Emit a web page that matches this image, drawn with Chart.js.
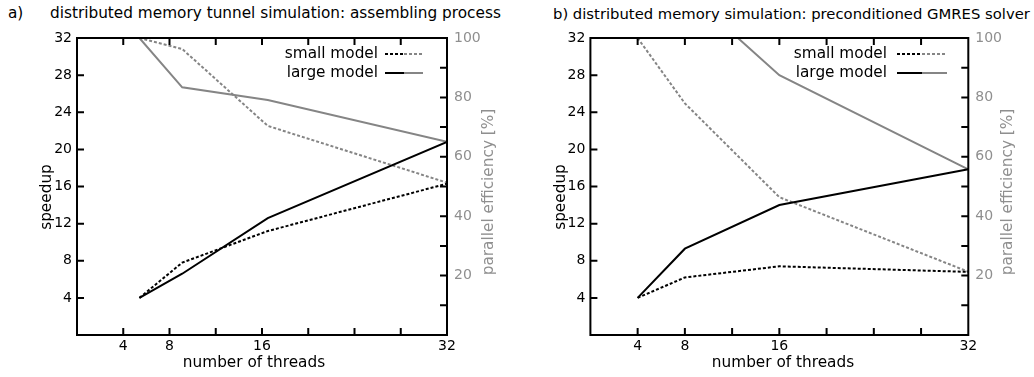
<!DOCTYPE html>
<html>
<head>
<meta charset="utf-8">
<script src="https://cdn.jsdelivr.net/npm/chart.js@4/dist/chart.umd.min.js"></script>
<style>
  body { margin: 0; width: 1034px; height: 377px; background: #fff; position: relative; overflow: hidden; font-family: "DejaVu Sans", sans-serif; }
  .box { position: absolute; top: 0; width: 517px; height: 377px; }
  .title { position: absolute; top: 4px; font-size: 15.3px; color: #000; white-space: nowrap; }
</style>
</head>
<body>
<div class="title" style="left:8px">a)</div>
<div class="title" style="left:50px">distributed memory tunnel simulation: assembling process</div>
<div class="title" style="left:553px; font-size:14.8px; top:5px">b) distributed memory simulation: preconditioned GMRES solver</div>
<div class="box" style="left:0"><canvas id="chartA"></canvas></div>
<div class="box" style="left:517px"><canvas id="chartB"></canvas></div>
<script>
// tick labels and legend
const xTickLabels = [4, 8, 16, 32];
const speedupTickLabels = [4, 8, 12, 16, 20, 24, 28, 32];
const effTickLabels = [20, 40, 60, 80, 100];
const legendLabels = ['small model', 'large model'];

// a) assembling process
const threadsA = [5.4, 9.1, 16.5, 32];
const speedupSmallA = [4, 7.8, 11.2, 16.3];
const speedupLargeA = [4, 6.6, 12.6, 20.8];
const effSmallA = [100, 96.3, 70.4, 51.3];
const effLargeA = [100, 83.4, 79.1, 65.1];

// b) preconditioned GMRES solver
const threadsB = [4, 8, 16, 32];
const speedupSmallB = [4, 6.2, 7.4, 6.8];
const speedupLargeB = [4, 9.3, 14.0, 17.85];
const effSmallB = [100, 78, 46.4, 21.3];
const effLargeB = [100, 116, 87.5, 55.8];

Chart.defaults.font.family = '"DejaVu Sans", sans-serif';
Chart.defaults.font.size = 14;
Chart.defaults.color = '#000';

const GRAY = '#858585';
const GRAY_TEXT = '#8f8f8f';
const TEXT_FONT = '15.3px "DejaVu Sans", sans-serif';

function pts(xs, ys) {
  return xs.map((x, i) => ({ x: x, y: ys[i] }));
}

function rotatedText(ctx, text, x, y, color) {
  ctx.save();
  ctx.translate(x, y);
  ctx.rotate(-Math.PI / 2);
  ctx.fillStyle = color;
  ctx.fillText(text, 0, 0);
  ctx.restore();
}

// frame, inward ticks, legend and axis titles (gnuplot look)
const framePlugin = {
  id: 'frame',
  afterDraw(chart, args, opts) {
    const { ctx, chartArea: a, scales } = chart;
    const tl = 7;
    ctx.save();
    ctx.strokeStyle = '#000';
    ctx.lineWidth = 2;
    ctx.beginPath();
    scales.x.ticks.forEach(t => {
      if (t.value <= 0 || t.value >= 32) return;
      const px = scales.x.getPixelForValue(t.value);
      ctx.moveTo(px, a.bottom); ctx.lineTo(px, a.bottom - tl);
      ctx.moveTo(px, a.top); ctx.lineTo(px, a.top + tl);
    });
    scales.y.ticks.forEach(t => {
      if (t.value <= 0 || t.value >= 32) return;
      const py = scales.y.getPixelForValue(t.value);
      ctx.moveTo(a.left, py); ctx.lineTo(a.left + tl, py);
    });
    scales.y2.ticks.forEach(t => {
      if (t.value <= 0 || t.value >= 100) return;
      const py = scales.y2.getPixelForValue(t.value);
      ctx.moveTo(a.right, py); ctx.lineTo(a.right - tl, py);
    });
    ctx.stroke();
    ctx.strokeRect(a.left, a.top, a.width, a.height);

    // legend
    const lg = opts.legend;
    ctx.font = TEXT_FONT;
    ctx.textAlign = 'right';
    ctx.textBaseline = 'middle';
    ctx.fillStyle = '#000';
    legendLabels.forEach((label, i) => {
      const y = lg.rows[i];
      ctx.fillText(label, lg.textRight, y);
      ctx.setLineDash(i === 0 ? [3, 2] : []);
      ctx.strokeStyle = '#000';
      ctx.beginPath(); ctx.moveTo(lg.x0, y); ctx.lineTo(lg.x1, y); ctx.stroke();
      ctx.strokeStyle = GRAY;
      ctx.beginPath(); ctx.moveTo(lg.x1, y); ctx.lineTo(lg.x2, y); ctx.stroke();
    });
    ctx.setLineDash([]);

    // axis titles
    const t = opts.titles;
    ctx.textAlign = 'center';
    ctx.fillText('number of threads', t.xTitle[0], t.xTitle[1]);
    rotatedText(ctx, 'speedup', t.yTitle[0], t.yTitle[1], '#000');
    rotatedText(ctx, 'parallel efficiency [%]', t.y2Title[0], t.y2Title[1], GRAY_TEXT);
    ctx.restore();
  }
};

function makeChart(id, threads, sSmall, sLarge, eSmall, eLarge, L) {
  return new Chart(document.getElementById(id), {
    type: 'line',
    data: {
      datasets: [
        { label: 'small model speedup', data: pts(threads, sSmall), yAxisID: 'y',
          borderColor: '#000', borderWidth: 2, borderDash: [3, 2], pointRadius: 0, fill: false },
        { label: 'large model speedup', data: pts(threads, sLarge), yAxisID: 'y',
          borderColor: '#000', borderWidth: 2, pointRadius: 0, fill: false },
        { label: 'small model efficiency', data: pts(threads, eSmall), yAxisID: 'y2',
          borderColor: GRAY, borderWidth: 2, borderDash: [3, 2], pointRadius: 0, fill: false },
        { label: 'large model efficiency', data: pts(threads, eLarge), yAxisID: 'y2',
          borderColor: GRAY, borderWidth: 2, pointRadius: 0, fill: false }
      ]
    },
    options: {
      responsive: true,
      maintainAspectRatio: false,
      animation: false,
      layout: { padding: L.padding },
      plugins: {
        legend: { display: false },
        tooltip: { enabled: false },
        frame: { legend: L.legend, titles: L.titles }
      },
      scales: {
        x: {
          type: 'linear', min: 0, max: 32,
          grid: { display: false, drawTicks: false },
          border: { display: false },
          ticks: { stepSize: 4, padding: 3, autoSkip: false, maxRotation: 0,
            callback: v => xTickLabels.includes(v) ? String(v) : '' },
          afterFit(s) { s.height = L.xHeight; }
        },
        y: {
          position: 'left', min: 0, max: 32,
          grid: { display: false, drawTicks: false },
          border: { display: false },
          ticks: { stepSize: 4, padding: 5,
            callback: v => speedupTickLabels.includes(v) ? String(v) : '' },
          afterFit(s) { s.width = L.yWidth; }
        },
        y2: {
          position: 'right', min: 0, max: 100,
          grid: { display: false, drawTicks: false },
          border: { display: false },
          ticks: { stepSize: 10, padding: 7, color: GRAY_TEXT,
            callback: v => effTickLabels.includes(v) ? String(v) : '' },
          afterFit(s) { s.width = L.y2Width; }
        }
      }
    },
    plugins: [framePlugin]
  });
}

makeChart('chartA', threadsA, speedupSmallA, speedupLargeA, effSmallA, effLargeA, {
  padding: { left: 35, right: 20, top: 38, bottom: 2 },
  yWidth: 42, y2Width: 50, xHeight: 40,
  legend: { textRight: 378, x0: 385, x1: 404, x2: 423, rows: [54, 73] },
  titles: { xTitle: [254, 363], yTitle: [47, 197], y2Title: [489, 192] }
});

makeChart('chartB', threadsB, speedupSmallB, speedupLargeB, effSmallB, effLargeB, {
  padding: { left: 30, right: 15, top: 38, bottom: 2 },
  yWidth: 43.4, y2Width: 50.7, xHeight: 40,
  legend: { textRight: 370, x0: 380, x1: 405, x2: 430, rows: [54, 73] },
  titles: { xTitle: [266, 363], yTitle: [44, 197], y2Title: [491, 192] }
});
</script>
</body>
</html>
